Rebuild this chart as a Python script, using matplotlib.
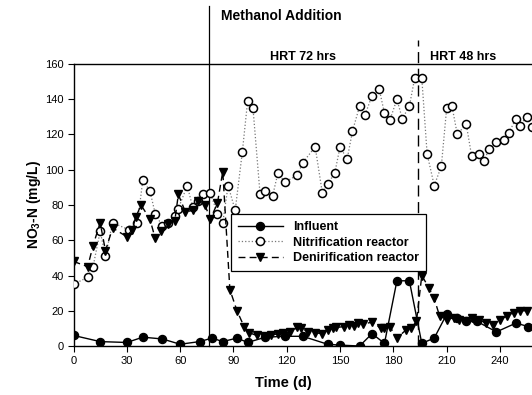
import matplotlib
matplotlib.use("Agg")
import matplotlib.pyplot as plt

plt.rcParams['font.family'] = ['Liberation Sans', 'DejaVu Sans']
plt.rcParams['mathtext.fontset'] = 'custom'
plt.rcParams['mathtext.rm'] = 'Liberation Sans'
plt.rcParams['mathtext.bf'] = 'Liberation Sans:bold'

# ---- data ----
infl_day = [0, 15, 30, 39, 50, 60, 71, 78, 84, 92, 98, 108, 119, 129, 143, 150, 161, 168, 175,
            182, 189, 196, 203, 210, 216, 221, 227, 238, 249, 256]
infl_val = [6, 2.5, 2, 5, 4, 1, 2.5, 4.5, 2.5, 4.5, 2, 5, 5.5, 5.5, 1, 0.5, 0, 7, 1.5,
            37, 37, 1.5, 4.5, 18, 16, 14, 14, 8, 13, 11]

nit_day = [0, 8, 11, 15, 18, 22, 31, 36, 39, 43, 46, 50, 53, 57, 59, 64, 67, 70, 73, 77,
           81, 84, 87, 91, 95, 98, 101, 105, 108, 112, 115, 119, 126, 129, 136, 140, 143,
           147, 150, 154, 157, 161, 164, 168, 172, 175, 178, 182, 185, 189, 192, 196, 199,
           203, 207, 210, 213, 216, 221, 224, 228, 231, 234, 238, 242, 245, 249, 251, 255, 258]
nit_val = [35, 39, 45, 65, 51, 70, 66, 70, 94, 88, 75, 68, 70, 74, 78, 91, 79, 82, 86, 87,
           75, 70, 91, 77, 110, 139, 135, 86, 88, 85, 98, 93, 97, 104, 113, 87, 92,
           98, 113, 106, 122, 136, 131, 142, 146, 132, 128, 140, 129, 136, 152, 152, 109,
           91, 102, 135, 136, 120, 126, 108, 109, 105, 112, 116, 117, 121, 129, 125, 130, 124]

den_day = [0, 8, 11, 15, 18, 22, 30, 33, 35, 38, 43, 46, 49, 53, 57, 59, 63, 67, 70, 74,
           77, 81, 84, 88, 92, 96, 99, 103, 107, 111, 115, 118, 122, 126, 128, 132, 136,
           140, 143, 146, 148, 152, 155, 158, 160, 163, 168, 173, 175, 178, 182, 187, 190,
           193, 196, 200, 203, 206, 210, 214, 217, 221, 224, 228, 232, 236, 240, 244, 248, 251, 255]
den_val = [48, 45, 57, 70, 54, 67, 62, 66, 73, 80, 72, 61, 65, 69, 71, 86, 76, 77, 82, 80,
           72, 81, 99, 32, 20, 11, 7.5, 6, 5.5, 6, 7, 7.5, 8, 10.5, 10, 8, 7.5,
           7, 9, 10, 10.5, 11, 12, 11.5, 13, 12.5, 13.5, 10, 10, 11, 4.5, 9, 10,
           14, 40, 33, 27, 17, 15, 16, 15, 14, 16, 15, 13, 12, 15, 17, 19, 20, 20]

methanol_day = 76
hrt_change_day = 194
x_ticks = [0, 30, 60, 90, 120, 150, 180, 210, 240]
y_ticks = [0, 20, 40, 60, 80, 100, 120, 140, 160]

W, H = 532, 395
fig = plt.figure(figsize=(W / 100, H / 100), dpi=100)
L, R, B, T = 73.5, 532, 346, 64
ax = fig.add_axes([L / W, (H - B) / H, (R - L) / W, (B - T) / H])

ax.plot(infl_day, infl_val, '-', color='black', lw=1.0, marker='o', ms=5.8,
        mfc='black', mec='black', label='Influent', zorder=4)
ax.plot(nit_day, nit_val, ':', color='#777777', lw=0.9, marker='o', ms=5.8,
        mfc='white', mec='black', mew=1.1, label='Nitrification reactor', zorder=3)
ax.plot(den_day, den_val, '--', color='black', lw=1.0, dashes=(5, 3), marker='v', ms=6.3,
        mfc='black', mec='black', label='Denirification reactor', zorder=3)

ax.set_xlim(0, (R - L) / 1.777)
ax.set_ylim(0, 160)
ax.set_xticks(x_ticks)
ax.set_yticks(y_ticks)
ax.tick_params(axis='both', labelsize=8, length=4, width=0.8, direction='out', pad=3)
ax.spines['right'].set_visible(False)
for s in ['left', 'bottom', 'top']:
    ax.spines[s].set_linewidth(1.0)

ax.axvline(methanol_day, ymin=0, ymax=(B - 6) / (B - T), color='black', lw=0.9,
           clip_on=False, zorder=2)
ax.axvline(hrt_change_day, ymin=0, ymax=(B - 40) / (B - T), color='black', lw=1.0,
           dashes=(8, 4), clip_on=False, zorder=2)

ax.set_xlabel('Time (d)', fontsize=10.5, fontweight='bold')
ax.xaxis.set_label_coords((283 - L) / (R - L), (B - 376) / (B - T))
ax.set_ylabel(r'NO$_{\mathbf{3}}$-N (mg/L)', fontsize=10, fontweight='bold')
ax.yaxis.set_label_coords((43 - L) / (R - L), 0.5)

fig.text(281 / W, 1 - 16 / H, 'Methanol Addition', ha='center', va='center',
         fontsize=10, fontweight='bold')
fig.text(303 / W, 1 - 57 / H, 'HRT 72 hrs', ha='center', va='center',
         fontsize=9, fontweight='bold')
fig.text(463 / W, 1 - 57 / H, 'HRT 48 hrs', ha='center', va='center',
         fontsize=9, fontweight='bold')

leg = ax.legend(loc='upper left', bbox_to_anchor=((231 - L) / (R - L), (B - 214) / (B - T)),
                prop={'size': 9, 'weight': 'bold'}, frameon=True, fancybox=False,
                framealpha=1, edgecolor='black', handlelength=3.6, borderpad=0.55,
                labelspacing=0.3, handletextpad=0.8, borderaxespad=0)
leg.get_frame().set_linewidth(0.9)
leg.set_zorder(10)

fig.savefig('out.png', dpi=100)
